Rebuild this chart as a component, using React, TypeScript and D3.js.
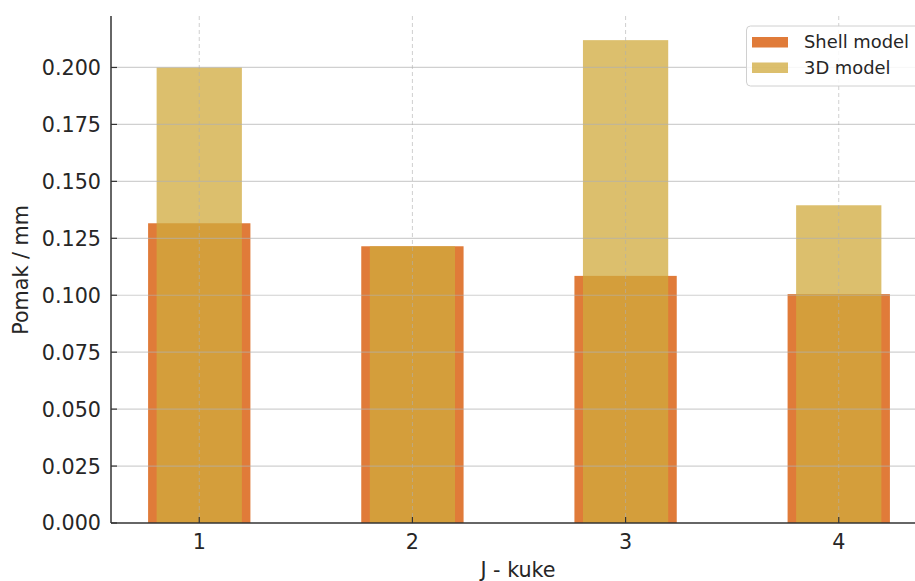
import React from "react";
import * as d3 from "d3";

const categories = [1, 2, 3, 4];
const shellValues = [0.1316, 0.1215, 0.1085, 0.1005];
const solidValues = [0.2, 0.1215, 0.212, 0.1395];
const yTicks = [0, 0.025, 0.05, 0.075, 0.1, 0.125, 0.15, 0.175, 0.2];
const seriesNames = ["Shell model", "3D model"];

const W = 915;
const H = 581;
const left = 111;
const right = 927;
const top = 16;
const bottom = 523;
const font = "DejaVu Sans, sans-serif";
const textColor = "#262626";
const shellColor = "#E07B39";
const solidColor = "rgba(208,170,60,0.75)";

export default function App() {
  const x = d3.scaleLinear().domain([0.586, 4.414]).range([left, right]);
  const y = d3.scaleLinear().domain([0, 0.2226]).range([bottom, top]);
  const shellW = 0.48;
  const solidW = 0.4;
  const bw = (w: number) => x(w) - x(0);

  return (
    <svg width={W} height={H} style={{ position: "absolute", left: 0, top: 0, background: "#fff" }}>
      <rect width={W} height={H} fill="#fff" />
      {categories.map((c, i) => (
        <rect key={"s" + c} x={x(c - shellW / 2)} y={y(shellValues[i])} width={bw(shellW)} height={y(0) - y(shellValues[i])} fill={shellColor} />
      ))}
      {categories.map((c, i) => (
        <rect key={"d" + c} x={x(c - solidW / 2)} y={y(solidValues[i])} width={bw(solidW)} height={y(0) - y(solidValues[i])} fill={solidColor} />
      ))}
      {yTicks.slice(1).map((t) => (
        <line key={"gy" + t} x1={left} x2={right} y1={y(t)} y2={y(t)} stroke="rgba(176,176,176,0.6)" strokeWidth={1.2} />
      ))}
      {categories.map((c) => (
        <line key={"gx" + c} x1={x(c)} x2={x(c)} y1={top} y2={bottom} stroke="rgba(176,176,176,0.6)" strokeWidth={1} strokeDasharray="4,3" />
      ))}
      <line x1={left} x2={left} y1={top} y2={bottom} stroke="#333" strokeWidth={1.5} />
      <line x1={left} x2={right} y1={bottom} y2={bottom} stroke="#333" strokeWidth={1.5} />
      {yTicks.map((t) => (
        <g key={"ty" + t}>
          <line x1={left} x2={left + 6} y1={y(t)} y2={y(t)} stroke="#333" strokeWidth={1.2} />
          <text x={101} y={y(t)} dy="0.36em" textAnchor="end" fontFamily={font} fontSize={20.7} fill={textColor}>
            {t.toFixed(3)}
          </text>
        </g>
      ))}
      {categories.map((c) => (
        <g key={"tx" + c}>
          <line x1={x(c)} x2={x(c)} y1={bottom} y2={bottom - 6} stroke="#333" strokeWidth={1.2} />
          <text x={x(c)} y={548.5} textAnchor="middle" fontFamily={font} fontSize={20.7} fill={textColor}>
            {c}
          </text>
        </g>
      ))}
      <text x={518} y={577} textAnchor="middle" fontFamily={font} fontSize={20.7} fill={textColor}>
        J - kuke
      </text>
      <text transform="translate(27.5,270) rotate(-90)" textAnchor="middle" fontFamily={font} fontSize={20.7} fill={textColor}>
        Pomak / mm
      </text>
      <rect x={746.5} y={26} width={200} height={60} rx={4} fill="rgba(255,255,255,0.85)" stroke="#d0d0d0" strokeWidth={1} />
      <rect x={752} y={37} width={36} height={10.5} fill={shellColor} />
      <rect x={752} y={62.5} width={36} height={10.5} fill={solidColor} />
      <text x={804} y={48} fontFamily={font} fontSize={17.9} fill={textColor}>
        {seriesNames[0]}
      </text>
      <text x={804} y={74} fontFamily={font} fontSize={17.9} fill={textColor}>
        {seriesNames[1]}
      </text>
    </svg>
  );
}
